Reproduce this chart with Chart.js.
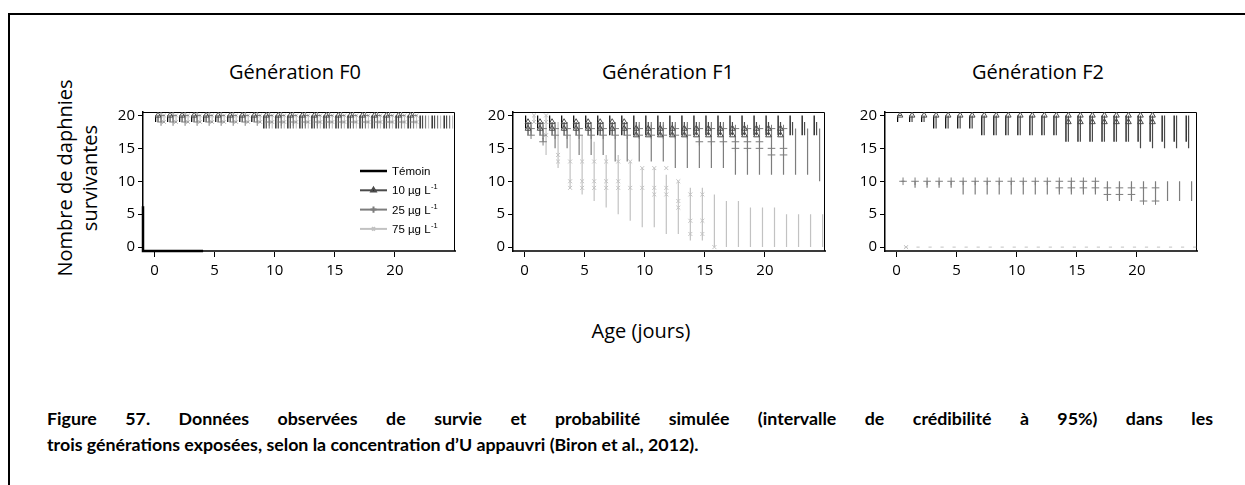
<!DOCTYPE html>
<html lang="fr">
<head>
<meta charset="utf-8">
<title>Survie des daphnies F0 – F2</title>
<script src="https://cdn.jsdelivr.net/npm/chart.js@4.4.1/dist/chart.umd.min.js"></script>
<style>
  html, body { margin: 0; padding: 0; background: #fff; }
  body { position: relative; width: 1245px; height: 485px; overflow: hidden; font-family: "Open Sans", sans-serif; color: #000; }
  .frame { position: absolute; left: 8px; top: 13px; width: 1260px; height: 490px; border-left: 2px solid #000; border-top: 2px solid #000; }
  canvas { position: absolute; top: 100px; }
  .panel-title { position: absolute; top: 62px; width: 300px; text-align: center; font-size: 20px; line-height: 20px; }
  .ylabel { position: absolute; left: -43px; top: 153px; width: 240px; height: 50px; transform: rotate(-90deg); text-align: center; font-size: 20px; line-height: 25px; }
  .xlabel { position: absolute; top: 320px; left: 541px; width: 200px; text-align: center; font-size: 20px; line-height: 22px; }
  .caption { position: absolute; left: 47px; width: 1166px; top: 405px; font-family: Lato, sans-serif; font-weight: bold; font-size: 17.8px; line-height: 26px; }
  .caption .l1 { text-align: justify; text-align-last: justify; }
</style>
</head>
<body>
<div class="frame"></div>
<div class="panel-title" style="left:145px">Génération F0</div>
<div class="panel-title" style="left:518px">Génération F1</div>
<div class="panel-title" style="left:888px">Génération F2</div>
<div class="ylabel">Nombre de daphnies<br>survivantes</div>
<canvas id="f0" width="360" height="186" style="left:100px"></canvas>
<canvas id="f1" width="360" height="186" style="left:470px"></canvas>
<canvas id="f2" width="360" height="186" style="left:842px"></canvas>
<div class="xlabel">Age (jours)</div>
<div class="caption">
  <div class="l1">Figure 57. Données observées de survie et probabilité simulée (intervalle de crédibilité à 95%) dans les</div>
  <div>trois générations exposées, selon la concentration d’U appauvri (Biron et al., 2012).</div>
</div>
<script>
// days of exposure (intervals) and days with observed counts
const days = [0, 1, 2, 3, 4, 5, 6, 7, 8, 9, 10, 11, 12, 13, 14, 15, 16, 17, 18, 19, 20, 21, 22, 23, 24];
const obsDays = [0, 1, 2, 3, 4, 5, 6, 7, 8, 9, 10, 11, 12, 13, 14, 15, 16, 17, 18, 19, 20, 21];
const xTickValues = [0, 5, 10, 15, 20];
const yTickValues = [0, 5, 10, 15, 20];

// ---- F0 : 95% credibility bounds and observed survivors
const f0TemoinHi = [20, 20, 20, 20, 20, 20, 20, 20, 20, 20, 20, 20, 20, 20, 20, 20, 20, 20, 20, 20, 20, 20, 20, 20, 20];
const f0TemoinLo = [19, 19, 19, 19, 19, 19, 19, 19, 19, 18, 18, 18, 18, 18, 18, 18, 18, 18, 18, 18, 18, 18, 18, 18, 18];
const f0Dose10Hi = [20, 20, 20, 20, 20, 20, 20, 20, 20, 20, 20, 20, 20, 20, 20, 20, 20, 20, 20, 20, 20, 20, 20, 20, 20];
const f0Dose10Lo = [19, 19, 19, 19, 19, 19, 19, 19, 19, 18, 18, 18, 18, 18, 18, 18, 18, 18, 18, 18, 18, 18, 18, 18, 18];
const f0Dose25Hi = [20, 20, 20, 20, 20, 20, 20, 20, 20, 20, 20, 20, 20, 20, 20, 20, 20, 20, 20, 20, 20, 20, 20, 20, 20];
const f0Dose25Lo = [19, 19, 19, 19, 19, 19, 19, 19, 19, 18, 18, 18, 18, 18, 18, 18, 18, 18, 18, 18, 18, 18, 18, 18, 18];
const f0Dose75Hi = [20, 20, 20, 20, 20, 20, 20, 20, 20, 20, 20, 20, 20, 20, 20, 20, 20, 20, 20, 20, 20, 20, 20, 20, 20];
const f0Dose75Lo = [19, 19, 19, 19, 19, 19, 19, 19, 19, 18, 18, 18, 18, 18, 18, 18, 18, 18, 18, 18, 18, 18, 18, 18, 18];
const f0Dose10Obs = [[20], [20], [20], [20], [20], [20], [20], [20], [20], [20], [20], [20], [20], [20], [20], [20], [20], [20], [20], [20], [20], [20]];
const f0Dose25Obs = [[20, 19], [20, 19], [20, 19], [20, 19], [20, 19], [20, 19], [20, 19], [20, 19], [20, 19], [20, 19], [20, 19], [20, 19], [20, 19], [20, 19], [20, 19], [20, 19], [20, 19], [20, 19], [20, 19], [20, 19], [20, 19], [20, 19]];
const f0Dose75Obs = [[20, 19], [20, 19], [20, 19], [20, 19], [20, 19], [20, 19], [20, 19], [20, 19], [20, 19], [20, 19], [20, 19], [20, 19], [20, 19], [20, 19], [20, 19], [20, 19], [20, 19], [20, 19], [20, 19], [20, 19], [20, 19], [20, 19]];
// control trace along the lower-left corner of F0
const f0TraceX = [-0.95, -0.95, 4.05];
const f0TraceY = [6.2, -0.59, -0.59];

// ---- F1
const f1TemoinHi = [20, 20, 20, 20, 20, 20, 20, 20, 20, 20, 20, 20, 20, 20, 20, 20, 20, 20, 20, 20, 20, 20, 20, 20, 20];
const f1TemoinLo = [18, 18, 18, 18, 18, 18, 17, 17, 17, 17, 17, 17, 17, 17, 17, 17, 17, 17, 17, 17, 17, 17, 17, 17, 17];
const f1Dose10Hi = [19, 19, 19, 19, 19, 19, 19, 19, 19, 19, 19, 19, 19, 19, 19, 19, 19, 19, 19, 19, 19, 19, 19, 19, 19];
const f1Dose10Lo = [17, 17, 17, 17, 17, 17, 17, 17, 17, 17, 17, 17, 17, 17, 17, 17, 17, 17, 17, 17, 17, 17, 17, 17, 17];
const f1Dose25Hi = [19, 19, 19, 19, 19, 19, 19, 19, 19, 19, 19, 19, 19, 19, 19, 19, 19, 18, 18, 18, 18, 18, 18, 18, 18];
const f1Dose25Lo = [17, 16, 15, 15, 14, 14, 14, 13, 13, 13, 13, 13, 12, 12, 12, 12, 12, 11, 11, 11, 11, 11, 11, 11, 10];
const f1Dose75Hi = [20, 20, 19, 17, 17, 16, 14, 14, 13, 12, 12, 11, 10, 9, 9, 8, 7, 7, 6, 6, 6, 5, 5, 5, 5];
const f1Dose75Lo = [19, 14, 12, 9, 8, 7, 6, 5, 4, 3, 3, 2, 2, 1, 1, 0, 0, 0, 0, 0, 0, 0, 0, 0, 0];
const f1Dose10Obs = [[19, 18], [19, 18], [19, 18], [19, 18], [19, 18], [19, 18], [19, 18], [19, 18], [19, 18], [18, 17], [18, 17], [18, 17], [18, 17], [18, 17], [18, 17], [18, 17], [18, 17], [18, 17], [18, 17], [18, 17], [18, 17], [18, 17]];
const f1Dose25Obs = [[18, 17], [18, 17, 16], [18, 17], [18, 17], [18, 17], [18, 17], [18, 17], [18, 17], [18, 17], [18, 17], [18, 17], [18, 17], [18, 17], [18, 17], [18, 16], [18, 16], [18, 16], [18, 16, 15], [18, 16, 15], [18, 16, 15], [18, 15, 14], [18, 15, 14]];
const f1Dose75Obs = [[20, 19], [20, 19, 17], [14, 13], [13, 10, 9], [13, 10, 9], [13, 10, 9], [13, 10, 9], [13, 10, 9], [13, 9], [12, 9], [12, 9, 8], [12, 9, 8], [10, 7, 6], [8, 4, 2], [8, 4, 2], [0], [], [], [], [], [], []];

// ---- F2
const f2TemoinHi = [20, 20, 20, 20, 20, 20, 20, 20, 20, 20, 20, 20, 20, 20, 20, 20, 20, 20, 20, 20, 20, 20, 20, 20, 20];
const f2TemoinLo = [19, 19, 19, 18, 18, 18, 18, 17, 17, 17, 17, 17, 17, 17, 16, 16, 16, 16, 16, 16, 16, 16, 16, 16, 16];
const f2Dose10Hi = [20, 20, 20, 20, 20, 20, 20, 20, 20, 20, 20, 20, 20, 20, 20, 20, 20, 20, 20, 20, 20, 20, 20, 20, 20];
const f2Dose10Lo = [20, 19, 19, 18, 18, 18, 18, 17, 17, 17, 17, 17, 17, 17, 16, 16, 16, 16, 16, 16, 15, 15, 15, 15, 15];
const f2Dose25Hi = [10, 10, 10, 10, 10, 10, 10, 10, 10, 10, 10, 10, 10, 10, 10, 10, 10, 10, 10, 10, 10, 10, 10, 10, 10];
const f2Dose25Lo = [10, 9, 9, 9, 9, 8, 8, 8, 8, 8, 8, 8, 8, 8, 8, 8, 8, 7, 7, 7, 7, 7, 7, 7, 7];
const f2Dose75Hi = [0, 0, 0, 0, 0, 0, 0, 0, 0, 0, 0, 0, 0, 0, 0, 0, 0, 0, 0, 0, 0, 0, 0, 0, 0];
const f2Dose75Lo = [0, 0, 0, 0, 0, 0, 0, 0, 0, 0, 0, 0, 0, 0, 0, 0, 0, 0, 0, 0, 0, 0, 0, 0, 0];
const f2Dose10Obs = [[20], [20], [20], [20], [20], [20], [20], [20], [20], [20], [20], [20], [20], [20], [20, 19], [20, 19], [20, 19], [20, 19], [20, 19], [20, 19], [20, 19], [20, 19]];
const f2Dose25Obs = [[10], [10], [10], [10], [10], [10], [10], [10], [10], [10], [10], [10], [10], [10, 9], [10, 9], [10, 9], [10, 9], [9, 8], [9, 8], [9, 8], [9, 7], [9, 7]];
const f2Dose75Obs = [[0], [], [], [], [], [], [], [], [], [], [], [], [], [], [], [], [], [], [], [], [], []];

// one entry per concentration: colour, marker and small x shift within a day
const groups = [
  { key: 'temoin', label: 'Témoin', sup: '', color: '#000000', shift: 0.1, marker: null, radius: 0 },
  { key: 'dose10', label: '10 µg L', sup: '-1', color: '#4a4a4a', shift: 0.3, marker: 'triangle', radius: 3.3 },
  { key: 'dose25', label: '25 µg L', sup: '-1', color: '#7d7d7d', shift: 0.55, marker: 'cross', radius: 3.8 },
  { key: 'dose75', label: '75 µg L', sup: '-1', color: '#c2c2c2', shift: 0.8, marker: 'crossRot', radius: 2.8 }
];

function intervalDatasets(g, hi, lo, order) {
  const segs = [];
  const flat = [];
  days.forEach((d, i) => {
    const x = d + g.shift;
    if (hi[i] === lo[i]) {
      flat.push({ x: x, y: hi[i] });
    } else {
      segs.push({ x: x, y: lo[i] }, { x: x, y: hi[i] }, { x: x, y: null });
    }
  });
  return [
    { data: segs, showLine: true, spanGaps: false, borderColor: g.color, borderWidth: 1.2, pointRadius: 0, order: order },
    { data: flat, pointStyle: 'line', pointRadius: 1.6, borderColor: g.color, borderWidth: 1, order: order }
  ];
}

function observedDataset(g, obs) {
  const pts = [];
  obsDays.forEach((d, i) => {
    obs[i].forEach(v => pts.push({ x: d + g.shift, y: v }));
  });
  return {
    data: pts, pointStyle: g.marker, pointRadius: g.radius, borderColor: g.color,
    backgroundColor: 'rgba(255,255,255,0)', borderWidth: 1, order: 0
  };
}

function panelDatasets(bounds, observed) {
  let sets = [];
  groups.forEach(g => {
    if (observed[g.key]) sets.push(observedDataset(g, observed[g.key]));
  });
  groups.forEach((g, gi) => {
    sets = sets.concat(intervalDatasets(g, bounds[g.key][0], bounds[g.key][1], gi + 1));
  });
  return sets;
}

// top and right edges of the plot box
const boxPlugin = {
  id: 'plotBox',
  beforeDatasetsDraw(chart) {
    const { ctx, chartArea: a } = chart;
    ctx.save();
    ctx.strokeStyle = '#000';
    ctx.lineWidth = 1;
    ctx.beginPath();
    ctx.moveTo(a.left, a.top + 0.5);
    ctx.lineTo(a.right - 0.5, a.top + 0.5);
    ctx.lineTo(a.right - 0.5, a.bottom);
    ctx.stroke();
    ctx.restore();
  }
};

// legend inside the F0 panel
const legendPlugin = {
  id: 'doseLegend',
  afterDatasetsDraw(chart) {
    const ctx = chart.ctx;
    ctx.save();
    groups.forEach((g, i) => {
      const y = 71 + i * 19.3;
      ctx.strokeStyle = g.color;
      ctx.lineWidth = i === 0 ? 2.5 : 2;
      ctx.beginPath();
      ctx.moveTo(260, y);
      ctx.lineTo(287, y);
      ctx.stroke();
      if (g.marker) {
        Chart.helpers.drawPoint(ctx, {
          pointStyle: g.marker, radius: g.radius * 0.8, borderWidth: 1
        }, 273.5, y);
      }
      ctx.fillStyle = '#000';
      ctx.font = '11.5px "Liberation Sans", Arial, sans-serif';
      ctx.textBaseline = 'middle';
      ctx.fillText(g.label, 292, y + 1);
      if (g.sup) {
        const w = ctx.measureText(g.label).width;
        ctx.font = '7.5px "Liberation Sans", Arial, sans-serif';
        ctx.fillText(g.sup, 292 + w + 0.5, y - 3);
      }
    });
    ctx.restore();
  }
};

function makeChart(id, datasets, extraPlugins) {
  const tickFont = { family: 'Open Sans', size: 15 };
  return new Chart(document.getElementById(id), {
    type: 'scatter',
    data: { datasets: datasets },
    plugins: [boxPlugin].concat(extraPlugins || []),
    options: {
      responsive: false,
      animation: false,
      devicePixelRatio: 1,
      events: [],
      layout: { padding: { top: 8, right: 1, left: 0, bottom: 0 } },
      plugins: { legend: { display: false }, tooltip: { enabled: false } },
      scales: {
        x: {
          type: 'linear', min: -0.95, max: 25,
          afterBuildTicks: s => { s.ticks = xTickValues.map(v => ({ value: v })); },
          afterFit: s => { s.height = 35; },
          grid: { drawOnChartArea: false, drawTicks: true, tickLength: 6, color: '#000', lineWidth: 1 },
          border: { display: true, color: '#3a3a3a', width: 2 },
          ticks: { color: '#000', font: tickFont, padding: 5, maxRotation: 0 }
        },
        y: {
          type: 'linear', min: -0.59, max: 20.52,
          afterBuildTicks: s => { s.ticks = yTickValues.map(v => ({ value: v })); },
          afterFit: s => { s.width = 43; },
          grid: { drawOnChartArea: false, drawTicks: true, tickLength: 5, color: '#000', lineWidth: 1 },
          border: { display: true, color: '#000', width: 1.5 },
          ticks: { color: '#000', font: tickFont, padding: 3 }
        }
      }
    }
  });
}

const f0Sets = panelDatasets(
  { temoin: [f0TemoinHi, f0TemoinLo], dose10: [f0Dose10Hi, f0Dose10Lo], dose25: [f0Dose25Hi, f0Dose25Lo], dose75: [f0Dose75Hi, f0Dose75Lo] },
  { dose10: f0Dose10Obs, dose25: f0Dose25Obs, dose75: f0Dose75Obs }
);
f0Sets.push({
  data: f0TraceX.map((x, i) => ({ x: x, y: f0TraceY[i] })),
  showLine: true, borderColor: '#000', borderWidth: 2.5, pointRadius: 0, clip: false, order: 0
});
makeChart('f0', f0Sets, [legendPlugin]);

makeChart('f1', panelDatasets(
  { temoin: [f1TemoinHi, f1TemoinLo], dose10: [f1Dose10Hi, f1Dose10Lo], dose25: [f1Dose25Hi, f1Dose25Lo], dose75: [f1Dose75Hi, f1Dose75Lo] },
  { dose10: f1Dose10Obs, dose25: f1Dose25Obs, dose75: f1Dose75Obs }
));

makeChart('f2', panelDatasets(
  { temoin: [f2TemoinHi, f2TemoinLo], dose10: [f2Dose10Hi, f2Dose10Lo], dose25: [f2Dose25Hi, f2Dose25Lo], dose75: [f2Dose75Hi, f2Dose75Lo] },
  { dose10: f2Dose10Obs, dose25: f2Dose25Obs, dose75: f2Dose75Obs }
));
</script>
</body>
</html>
